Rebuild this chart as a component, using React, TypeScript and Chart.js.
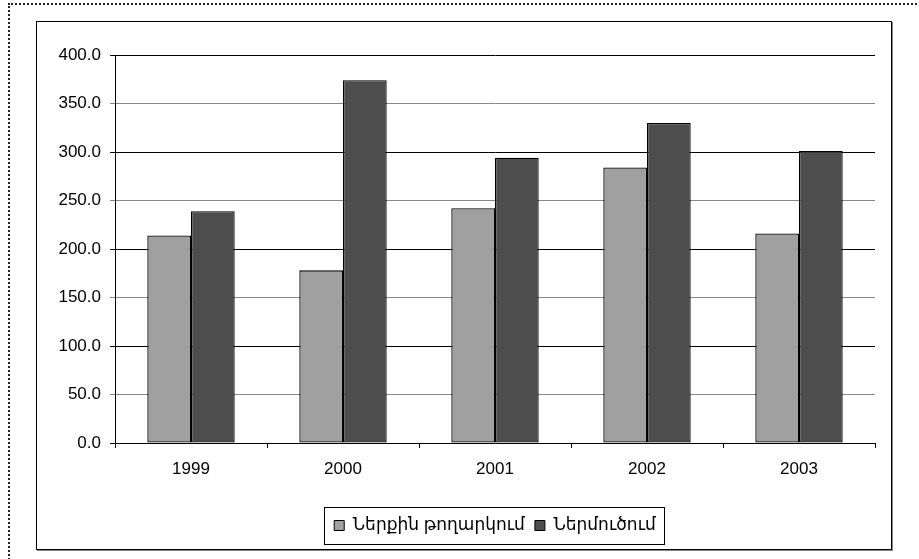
import React, { useEffect, useRef } from "react";
import { Chart, registerables } from "chart.js";

Chart.register(...registerables);

const years = ["1999", "2000", "2001", "2002", "2003"];
const domestic = [214, 178, 242, 284, 216];
const imports = [239, 374, 294, 330, 301];
const seriesNames = ["Ներքին թողարկում", "Ներմուծում"];
const yTicksMin = 0;
const yTicksMax = 400;
const yStep = 50;

const FONT = "Arial, 'Liberation Sans', 'DejaVu Sans', sans-serif";

const legendBorder = {
  id: "legendBorder",
  afterDraw(chart: any) {
    const lg = chart.legend;
    if (!lg || !lg.legendHitBoxes || !lg.legendHitBoxes.length) return;
    const hb = lg.legendHitBoxes;
    let l = Infinity, r = -Infinity, t = Infinity, b = -Infinity;
    hb.forEach((h: any) => {
      l = Math.min(l, h.left);
      r = Math.max(r, h.left + h.width);
      t = Math.min(t, h.top);
      b = Math.max(b, h.top + h.height);
    });
    const ctx = chart.ctx;
    ctx.save();
    ctx.strokeStyle = "#000";
    ctx.lineWidth = 1;
    const cy = (t + b) / 2;
    ctx.strokeRect(Math.round(l - 10) + 0.5, Math.round(cy - 18.5) + 0.5, Math.round(r - l + 18), 37);
    ctx.restore();
  },
};

export default function App() {
  const ref = useRef<HTMLCanvasElement>(null);
  useEffect(() => {
    if (!ref.current) return;
    const chart = new Chart(ref.current, {
      type: "bar",
      data: {
        labels: years,
        datasets: [
          {
            label: seriesNames[0],
            data: domestic,
            backgroundColor: "#A0A0A0",
            borderColor: "#000",
            borderWidth: 1.3,
            borderSkipped: false,
            categoryPercentage: 0.575,
            barPercentage: 1,
          },
          {
            label: seriesNames[1],
            data: imports,
            backgroundColor: "#4D4D4D",
            borderColor: "#000",
            borderWidth: 1.3,
            borderSkipped: false,
            categoryPercentage: 0.575,
            barPercentage: 1,
          },
        ],
      },
      options: {
        responsive: false,
        animation: false,
        devicePixelRatio: 1,
        layout: { padding: { left: 40, right: 44, top: 55, bottom: 15 } },
        plugins: {
          tooltip: { enabled: false },
          legend: {
            position: "bottom",
            fullSize: false,
            labels: {
              boxWidth: 10,
              boxHeight: 10,
              padding: 10,
              color: "#000",
              font: { family: FONT, size: 17 },
              generateLabels: (chart: any) =>
                chart.data.datasets.map((d: any, i: number) => ({
                  text: d.label,
                  fillStyle: d.backgroundColor,
                  strokeStyle: "#000",
                  lineWidth: 1,
                  datasetIndex: i,
                  fontColor: "#000",
                })),
            },
          },
        },
        scales: {
          x: {
            afterFit: (s: any) => {
              s.height = 64;
            },
            grid: {
              display: true,
              drawOnChartArea: false,
              offset: true,
              tickLength: 5,
              color: "#000",
            },
            border: { display: true, color: "#000", width: 1 },
            ticks: {
              color: "#000",
              padding: 11,
              font: { family: FONT, size: 17 },
            },
          },
          y: {
            min: yTicksMin,
            max: yTicksMax,
            afterFit: (s: any) => {
              s.width = 75;
            },
            grid: {
              tickLength: 5,
              color: (c: any) => (c.index % 2 === 0 ? "#000" : "#888"),
            },
            border: { display: true, color: "#000", width: 1 },
            ticks: {
              stepSize: yStep,
              color: "#000",
              padding: 9,
              font: { family: FONT, size: 17 },
              callback: (v: any) => Number(v).toFixed(1),
            },
          },
        },
      },
      plugins: [legendBorder],
    });
    return () => chart.destroy();
  }, []);

  return (
    <div style={{ position: "fixed", left: 0, top: 0, width: 919, height: 559, background: "#fff", overflow: "hidden" }}>
      <div
        style={{
          position: "absolute",
          left: 8,
          top: 3,
          width: 940,
          height: 600,
          border: "2px dotted #222",
        }}
      />
      <div
        style={{
          position: "absolute",
          left: 36,
          top: 21,
          width: 854,
          height: 527,
          border: "1.5px solid #000",
          boxShadow: "1px 1px 0 #888",
          background: "#fff",
        }}
      />
      <canvas ref={ref} width={919} height={559} style={{ position: "absolute", left: 0, top: 0 }} />
    </div>
  );
}
